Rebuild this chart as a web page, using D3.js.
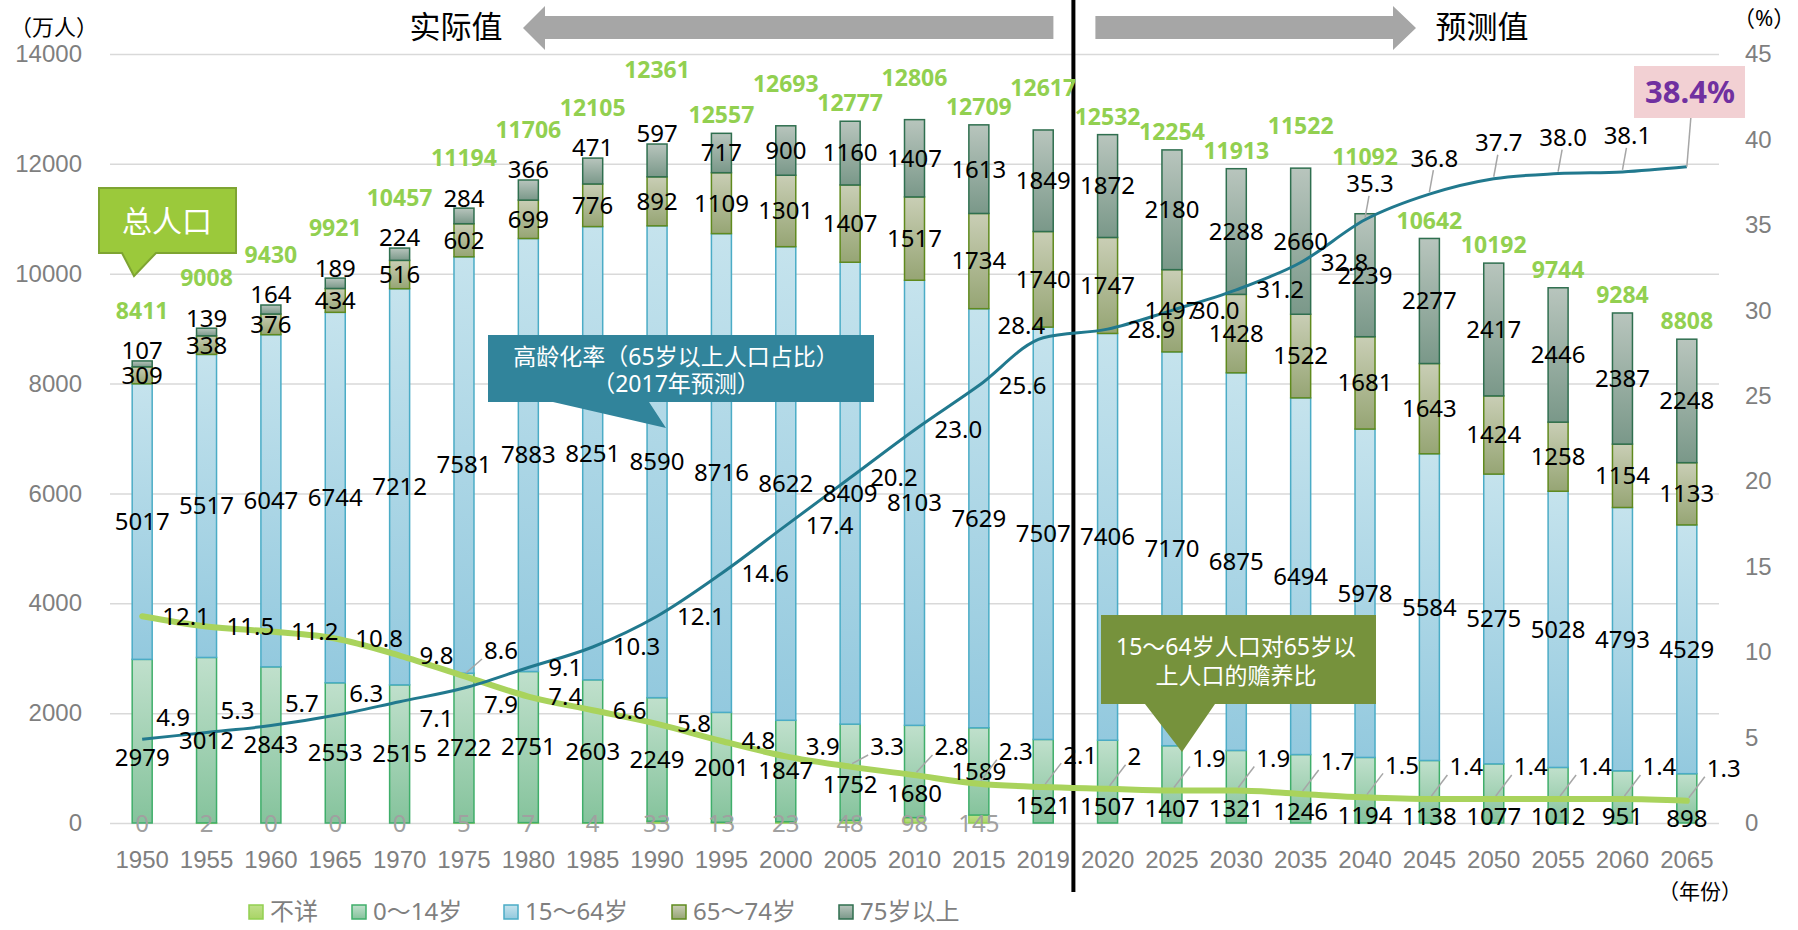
<!DOCTYPE html>
<html lang="zh">
<head>
<meta charset="UTF-8">
<title>人口结构</title>
<style>
  body { margin: 0; background: #fff; }
  svg { font-family: "Noto Sans", "Noto Sans CJK SC", sans-serif; }
</style>
</head>
<body>
<svg id="chart" width="1798" height="930"></svg>
<script src="https://d3js.org/d3.v7.min.js"></script>
<script>
// ---- data ----
const years = ["1950","1955","1960","1965","1970","1975","1980","1985","1990","1995","2000","2005","2010","2015","2019",
               "2020","2025","2030","2035","2040","2045","2050","2055","2060","2065"];
const unknown   = [0,2,0,0,0,5,7,4,33,13,23,48,98,145,null,null,null,null,null,null,null,null,null,null,null];
const age0_14   = [2979,3012,2843,2553,2515,2722,2751,2603,2249,2001,1847,1752,1680,1589,1521,1507,1407,1321,1246,1194,1138,1077,1012,951,898];
const age15_64  = [5017,5517,6047,6744,7212,7581,7883,8251,8590,8716,8622,8409,8103,7629,7507,7406,7170,6875,6494,5978,5584,5275,5028,4793,4529];
const age65_74  = [309,338,376,434,516,602,699,776,892,1109,1301,1407,1517,1734,1740,1747,1497,1428,1522,1681,1643,1424,1258,1154,1133];
const age75plus = [107,139,164,189,224,284,366,471,597,717,900,1160,1407,1613,1849,1872,2180,2288,2660,2239,2277,2417,2446,2387,2248];
const totals    = [8411,9008,9430,9921,10457,11194,11706,12105,12361,12557,12693,12777,12806,12709,12617,12532,12254,11913,11522,11092,10642,10192,9744,9284,8808];
const agingRate    = [4.9,5.3,5.7,6.3,7.1,7.9,9.1,10.3,12.1,14.6,17.4,20.2,23.0,25.6,28.4,28.9,30.0,31.2,32.8,35.3,36.8,37.7,38.0,38.1,38.4];
const supportRatio = [12.1,11.5,11.2,10.8,9.8,8.6,7.4,6.6,5.8,4.8,3.9,3.3,2.8,2.3,2.1,2.0,1.9,1.9,1.7,1.5,1.4,1.4,1.4,1.4,1.3];
const leftTicks  = [0,2000,4000,6000,8000,10000,12000,14000];
const rightTicks = [0,5,10,15,20,25,30,35,40,45];
const seriesNames = ["不详","0～14岁","15～64岁","65～74岁","75岁以上"];

// ---- layout ----
const svg = d3.select("#chart");
const x = d3.scaleBand().domain(years).range([110, 1719]);
const yL = d3.scaleLinear().domain([0, 14000]).range([823, 54]);
const yR = d3.scaleLinear().domain([0, 45]).range([823, 54]);
const cx = i => x(years[i]) + x.bandwidth() / 2;
const barW = 20;

const keys = ["u","a","b","c","d"];
const rows = years.map((y, i) => ({u: unknown[i] || 0, a: age0_14[i], b: age15_64[i], c: age65_74[i], d: age75plus[i]}));
const stacked = d3.stack().keys(keys)(rows);

const fills = {
  u: {top: "#bfe08a", bot: "#a9d466", stroke: "#92d050"},
  a: {top: "#c0e0cc", bot: "#85c39c", stroke: "#3fae6a"},
  b: {top: "#c5e3ed", bot: "#93c9de", stroke: "#4bacc6"},
  c: {top: "#c9ceb5", bot: "#96a574", stroke: "#5f8a1e"},
  d: {top: "#b8c5bd", bot: "#7a9889", stroke: "#2f6f4f"}
};
const defs = svg.append("defs");
keys.forEach(k => {
  const g = defs.append("linearGradient").attr("id", "g_" + k)
    .attr("x1", 0).attr("y1", 0).attr("x2", 0).attr("y2", 1);
  g.append("stop").attr("offset", "0%").attr("stop-color", fills[k].top);
  g.append("stop").attr("offset", "100%").attr("stop-color", fills[k].bot);
});

// gridlines + left axis
const gL = svg.append("g").attr("transform", "translate(110,0)")
  .call(d3.axisLeft(yL).tickValues(leftTicks).tickSize(-(1719 - 110)).tickPadding(28).tickFormat(d3.format("d")));
gL.select(".domain").remove();
gL.selectAll("line").attr("stroke", "#d9d9d9").attr("stroke-width", 1.5);
gL.selectAll("text").attr("fill", "#7f7f7f").style("font-size", "24px");

// right axis
const gR = svg.append("g").attr("transform", "translate(1745,0)")
  .call(d3.axisRight(yR).tickValues(rightTicks).tickSize(0).tickPadding(0));
gR.select(".domain").remove();
gR.selectAll("text").attr("fill", "#7f7f7f").style("font-size", "24px");

// x axis
const gX = svg.append("g").attr("transform", "translate(0,823)")
  .call(d3.axisBottom(x).tickSize(0).tickPadding(28));
gX.select(".domain").remove();
gX.selectAll("text").attr("fill", "#7f7f7f").style("font-size", "24px");

// bars
stacked.forEach(s => {
  svg.append("g").selectAll("rect")
    .data(s.map((d, i) => ({d, i})).filter(o => o.d[1] - o.d[0] > 0))
    .join("rect")
    .attr("x", o => cx(o.i) - barW / 2)
    .attr("width", barW)
    .attr("y", o => yL(o.d[1]))
    .attr("height", o => yL(o.d[0]) - yL(o.d[1]))
    .attr("fill", "url(#g_" + s.key + ")")
    .attr("stroke", fills[s.key].stroke)
    .attr("stroke-width", 1.5);
});

// divider between actual and projected
const divX = x("2020") - 2;
svg.append("line").attr("x1", divX).attr("x2", divX).attr("y1", 0).attr("y2", 892)
  .attr("stroke", "#000").attr("stroke-width", 4);

// lines
const lineGen = d3.line().x((d, i) => cx(i)).y(d => yR(d)).curve(d3.curveMonotoneX);
svg.append("path").datum(supportRatio).attr("d", lineGen)
  .attr("fill", "none").attr("stroke", "#a9d35c").attr("stroke-width", 6).attr("stroke-linecap", "round");
svg.append("path").datum(agingRate).attr("d", lineGen)
  .attr("fill", "none").attr("stroke", "#21798e").attr("stroke-width", 3);

// ---- data labels ----
const lab = svg.append("g").style("font-size", "24px").attr("fill", "#000");
const text = (g, x0, y0, t, anchor) => g.append("text").attr("x", x0).attr("y", y0).attr("dy", "0.35em")
  .attr("text-anchor", anchor || "middle").text(t);
const leader = (x1, y1, x2, y2) => svg.append("line").attr("x1", x1).attr("y1", y1).attr("x2", x2).attr("y2", y2)
  .attr("stroke", "#a6a6a6").attr("stroke-width", 1.5);

years.forEach((yr, i) => {
  const c = cx(i);
  const sA = stacked[1][i], sB = stacked[2][i], sC = stacked[3][i], sD = stacked[4][i];
  // unknown
  if (unknown[i] !== null) text(lab, c, yL(0) + 1, unknown[i]).attr("fill", "#a0a0a0");
  // 0-14, kept off the lines
  let ya = (yL(sA[0]) + yL(sA[1])) / 2;
  [yR(agingRate[i]), yR(supportRatio[i])].forEach(ly => { if (ya > ly - 8 && ya < ly + 7) ya = ly + 18; });
  text(lab, c, ya, age0_14[i]);
  text(lab, c, (yL(sB[0]) + yL(sB[1])) / 2, age15_64[i]);
  text(lab, c, (yL(sC[0]) + yL(sC[1])) / 2, age65_74[i]);
  const topY = yL(sD[1]);
  const small = yL(sD[0]) - topY < 35;
  text(lab, c, small ? topY - 10 : (yL(sD[0]) + topY) / 2, age75plus[i]);
});

// line labels
const fmt = v => v === 2 ? "2" : d3.format(".1f")(v);
supportRatio.forEach((v, i) => {
  const px = cx(i), py = yR(v);
  const close = Math.abs(v - agingRate[i]) < 1;
  let dy = -Math.min(Math.max(py - 747, 0), 32);
  if (close && v > agingRate[i]) dy = -25;
  if (dy < -15) leader(px + 2, py - 3, px + 18, py + dy + 8);
  text(lab, px + 20, py + dy, fmt(v), "start");
});
const agingLabelAbove = [];
agingRate.forEach((v, i) => {
  if (i === agingRate.length - 1) return;
  const px = cx(i), py = yR(v);
  const dep = supportRatio[i];
  if (v < dep && dep - v < 3) {
    text(lab, px + 20, py + 17, fmt(v), "start");
  } else if (v < dep) {
    text(lab, px + 14, py - 22, fmt(v), "start");
  } else if (i >= 19) {
    leader(px, py - 2, px + 4, py - 24);
    text(lab, px + 5, py - 36, fmt(v));
    agingLabelAbove[i] = py - 36;
  } else if (yR(v) - yR(agingRate[i + 1]) < 12) {
    text(lab, px + 2, py - 12, fmt(v), "end");
  } else {
    text(lab, px + 20, py, fmt(v), "start");
  }
});

// totals
let prevY = null;
totals.forEach((t, i) => {
  const sD = stacked[4][i];
  const topY = yL(sD[1]);
  const small = yL(sD[0]) - topY < 35;
  let ty = topY - (small ? 50 : 18);
  if (prevY !== null && Math.abs(ty - prevY) < 15) ty -= 24;
  if (agingLabelAbove[i] !== undefined && Math.abs(ty - agingLabelAbove[i]) < 25) ty = agingLabelAbove[i] - 27;
  prevY = ty;
  svg.append("text").attr("x", cx(i)).attr("y", ty).attr("dy", "0.35em").attr("text-anchor", "middle")
    .attr("fill", "#92d050").style("font-size", "23px").style("font-weight", "bold").text(t);
});

// 2065 highlight
const lastI = agingRate.length - 1;
leader(cx(lastI), yR(agingRate[lastI]), cx(lastI) + 4, 118);
svg.append("rect").attr("x", 1634).attr("y", 66).attr("width", 111).attr("height", 52).attr("fill", "#f2d0d3");
svg.append("text").attr("x", 1690).attr("y", 92).attr("dy", "0.35em").attr("text-anchor", "middle")
  .attr("fill", "#7030a0").style("font-size", "31px").style("font-weight", "bold")
  .text(fmt(agingRate[lastI]) + "%");

// ---- callouts ----
svg.append("path")
  .attr("d", "M99,188 H236 V253 H156 L134,276 L122,253 H99 Z")
  .attr("fill", "#9bc93b").attr("stroke", "#7ea432").attr("stroke-width", 2);
svg.append("text").attr("x", 167).attr("y", 221).attr("dy", "0.35em").attr("text-anchor", "middle")
  .attr("fill", "#fff").style("font-size", "30px").text("总人口");

svg.append("path")
  .attr("d", "M488,335 H874 V402 H649 L666,428 L553,402 H488 Z").attr("fill", "#31849b");
svg.append("text").attr("x", 676).attr("y", 357).attr("dy", "0.35em").attr("text-anchor", "middle")
  .attr("fill", "#fff").style("font-size", "23px").text("高龄化率（65岁以上人口占比）");
svg.append("text").attr("x", 676).attr("y", 384).attr("dy", "0.35em").attr("text-anchor", "middle")
  .attr("fill", "#fff").style("font-size", "23px").text("（2017年预测）");

svg.append("path")
  .attr("d", "M1101,615 H1376 V704 H1215 L1182,752 L1145,704 H1101 Z").attr("fill", "#76923c");
svg.append("text").attr("x", 1236).attr("y", 647).attr("dy", "0.35em").attr("text-anchor", "middle")
  .attr("fill", "#fff").style("font-size", "23px").text("15～64岁人口对65岁以");
svg.append("text").attr("x", 1236).attr("y", 676).attr("dy", "0.35em").attr("text-anchor", "middle")
  .attr("fill", "#fff").style("font-size", "23px").text("上人口的赡养比");

// ---- top arrows ----
svg.append("path").attr("d", `M523,28 L545,6 V16 H${divX - 20} V39 H545 V50 Z`).attr("fill", "#a6a6a6");
svg.append("path").attr("d", `M${divX + 22},16 H1393 V6 L1416,28 L1393,50 V39 H${divX + 22} Z`).attr("fill", "#a6a6a6");
svg.append("text").attr("x", 456).attr("y", 27).attr("dy", "0.35em").attr("text-anchor", "middle")
  .style("font-size", "31px").text("实际值");
svg.append("text").attr("x", 1482).attr("y", 27).attr("dy", "0.35em").attr("text-anchor", "middle")
  .style("font-size", "31px").text("预测值");

// unit labels
svg.append("text").attr("x", 10).attr("y", 27).attr("dy", "0.35em").style("font-size", "22px").text("（万人）");
svg.append("text").attr("x", 1733).attr("y", 18).attr("dy", "0.35em").style("font-size", "22px").text("（%）");
svg.append("text").attr("x", 1658).attr("y", 892).attr("dy", "0.35em").style("font-size", "21px").text("（年份）");

// ---- legend ----
const legX = [249, 352, 504, 672, 839];
const leg = svg.append("g");
keys.forEach((k, i) => {
  leg.append("rect").attr("x", legX[i]).attr("y", 905).attr("width", 14).attr("height", 14)
    .attr("fill", "url(#g_" + k + ")").attr("stroke", fills[k].stroke).attr("stroke-width", 1.5);
  leg.append("text").attr("x", legX[i] + 21).attr("y", 912).attr("dy", "0.35em")
    .attr("fill", "#7f7f7f").style("font-size", "24px").text(seriesNames[i]);
});
</script>
</body>
</html>
